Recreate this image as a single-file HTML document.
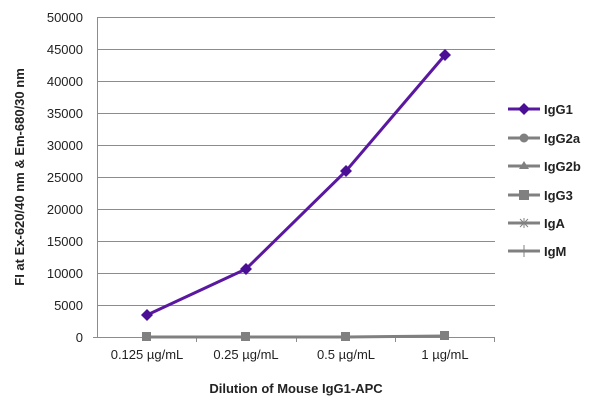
<!DOCTYPE html>
<html><head><style>
body{margin:0;background:#fff;}
text{font-family:"Liberation Sans",sans-serif;}
</style></head><body>
<svg width="600" height="406" xmlns="http://www.w3.org/2000/svg">
<g stroke="#8c8c8c" stroke-width="1">
<line x1="97" y1="17.5" x2="495" y2="17.5"/>
<line x1="97" y1="49.5" x2="495" y2="49.5"/>
<line x1="97" y1="81.5" x2="495" y2="81.5"/>
<line x1="97" y1="113.5" x2="495" y2="113.5"/>
<line x1="97" y1="145.5" x2="495" y2="145.5"/>
<line x1="97" y1="177.5" x2="495" y2="177.5"/>
<line x1="97" y1="209.5" x2="495" y2="209.5"/>
<line x1="97" y1="241.5" x2="495" y2="241.5"/>
<line x1="97" y1="273.5" x2="495" y2="273.5"/>
<line x1="97" y1="305.5" x2="495" y2="305.5"/>
<line x1="93" y1="337.5" x2="495" y2="337.5"/>
<line x1="97.5" y1="17" x2="97.5" y2="337"/>
<line x1="196.5" y1="337" x2="196.5" y2="342"/>
<line x1="296.5" y1="337" x2="296.5" y2="342"/>
<line x1="395.5" y1="337" x2="395.5" y2="342"/>
<line x1="494.5" y1="337" x2="494.5" y2="342"/>
</g>
<g font-size="13" fill="#222" text-anchor="end">
<text x="83" y="22">50000</text><text x="83" y="54">45000</text><text x="83" y="86">40000</text>
<text x="83" y="118">35000</text><text x="83" y="150">30000</text><text x="83" y="182">25000</text>
<text x="83" y="214">20000</text><text x="83" y="246">15000</text><text x="83" y="278">10000</text>
<text x="83" y="310">5000</text><text x="83" y="342">0</text>
</g>
<g font-size="13" fill="#222" text-anchor="middle">
<text x="147" y="359">0.125 µg/mL</text><text x="246" y="359">0.25 µg/mL</text>
<text x="346" y="359">0.5 µg/mL</text><text x="445" y="359">1 µg/mL</text>
</g>
<text x="296" y="393" font-size="13" font-weight="bold" fill="#222" text-anchor="middle">Dilution of Mouse IgG1-APC</text>
<text transform="translate(24,177) rotate(-90)" font-size="13" font-weight="bold" fill="#222" text-anchor="middle">FI at Ex-620/40 nm &amp; Em-680/30 nm</text>
<polyline points="147,337 246,337 346,337 445,336" fill="none" stroke="#808080" stroke-width="3"/>
<g fill="#808080"><rect x="142" y="332" width="9" height="9"/><rect x="241" y="332" width="9" height="9"/><rect x="341" y="332" width="9" height="9"/><rect x="440" y="331" width="9" height="9"/></g>
<polyline points="147,315 246,269 346,171 445,55" fill="none" stroke="#5a18a0" stroke-width="3"/>
<g fill="#4b0f96">
<polygon points="147,309 153,315 147,321 141,315"/><polygon points="246,263 252,269 246,275 240,269"/>
<polygon points="346,165 352,171 346,177 340,171"/><polygon points="445,49 451,55 445,61 439,55"/>
</g>
<g font-size="13" font-weight="bold" fill="#222">
<line x1="508" y1="109" x2="540" y2="109" stroke="#5a18a0" stroke-width="3"/>
<polygon points="524,103 530,109 524,115 518,109" fill="#4b0f96"/>
<text x="544" y="114">IgG1</text>
<line x1="508" y1="138" x2="540" y2="138" stroke="#808080" stroke-width="3"/>
<circle cx="524" cy="138" r="4.5" fill="#808080"/>
<text x="544" y="143">IgG2a</text>
<line x1="508" y1="166" x2="540" y2="166" stroke="#808080" stroke-width="3"/>
<polygon points="524,161 529,169 519,169" fill="#808080"/>
<text x="544" y="171">IgG2b</text>
<line x1="508" y1="195" x2="540" y2="195" stroke="#808080" stroke-width="3"/>
<rect x="519" y="190" width="10" height="10" fill="#808080"/>
<text x="544" y="200">IgG3</text>
<line x1="508" y1="223" x2="540" y2="223" stroke="#808080" stroke-width="3"/>
<path d="M520,219 L528,227 M528,219 L520,227 M524,218 L524,228" stroke="#808080" stroke-width="1"/>
<text x="544" y="228">IgA</text>
<line x1="508" y1="251" x2="540" y2="251" stroke="#808080" stroke-width="3"/>
<line x1="524" y1="245" x2="524" y2="257" stroke="#808080" stroke-width="1"/>
<text x="544" y="256">IgM</text>
</g>
</svg>
</body></html>
